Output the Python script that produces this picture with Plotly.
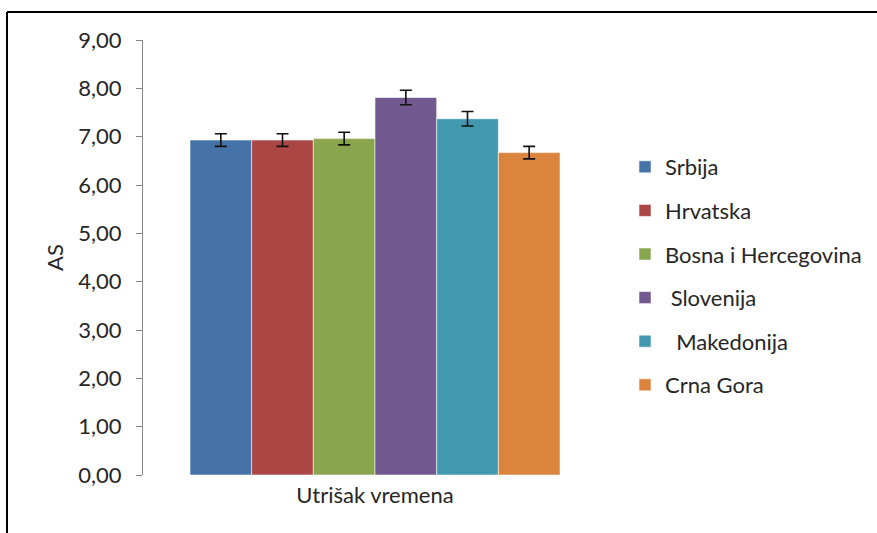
import plotly.graph_objects as go

# Mean scores (AS) with their error margins, one bar per country
countries = ["Srbija", "Hrvatska", "Bosna i Hercegovina", " Slovenija", "  Makedonija", "Crna Gora"]
means = [6.93, 6.93, 6.96, 7.81, 7.37, 6.67]
errors = [0.13, 0.13, 0.13, 0.15, 0.15, 0.13]
category = ["Utrišak vremena"]
colors = ["#4572A7", "#AA4643", "#89A54E", "#71588F", "#4198AF", "#DB843D"]
y_ticks = [0, 1, 2, 3, 4, 5, 6, 7, 8, 9]

W, H = 877, 533
L, R, T, B = 143, 607, 40, 475
FONT = "Lato, 'Open Sans', sans-serif"
FS = 22
TEXT = "#262626"

fig = go.Figure()
for i, (name, m, e, c) in enumerate(zip(countries, means, errors, colors)):
    fig.add_trace(go.Bar(
        x=category, y=[m], name=name, legendgroup=f"g{i}",
        marker=dict(color=c, line=dict(color="rgba(255,255,255,0.55)", width=1)),
        error_y=dict(type="data", array=[e], visible=True, color="#111111",
                     thickness=1.6, width=6),
    ))


def px_x(p):
    return (p - L) / (R - L)


def px_y(p):
    return (B - p) / (B - T)


# outer frame around the chart area
frame = dict(type="line", xref="paper", yref="paper", line=dict(color="#000000", width=2))
shapes = [
    dict(frame, x0=px_x(7), x1=px_x(7), y0=px_y(12), y1=px_y(540)),
    dict(frame, x0=px_x(7), x1=px_x(880), y0=px_y(12), y1=px_y(12)),
]

fig.update_layout(
    width=W, height=H,
    margin=dict(l=L, r=W - R, t=T, b=H - B, pad=0, autoexpand=False),
    barmode="group", bargap=0.2026, bargroupgap=0,
    plot_bgcolor="white", paper_bgcolor="white",
    separators=", ",
    font=dict(family=FONT, size=FS, color=TEXT),
    showlegend=True,
    legend=dict(x=px_x(625), y=px_y(146), xanchor="left", yanchor="top",
                font=dict(family=FONT, size=FS, color=TEXT),
                tracegroupgap=12, traceorder="grouped", bgcolor="rgba(0,0,0,0)"),
    shapes=shapes,
    xaxis=dict(showline=False, showgrid=False, ticks="", tickfont=dict(size=FS),
               ticklabelstandoff=5, automargin=False),
    yaxis=dict(range=[0, 9], tickvals=y_ticks, tickformat=".2f",
               showline=True, linecolor="#868686", linewidth=1,
               ticks="outside", ticklen=6, tickcolor="#868686",
               showgrid=False, zeroline=False, ticklabelstandoff=10,
               tickfont=dict(size=FS), automargin=False,
               title=dict(text="AS", standoff=8, font=dict(size=FS))),
)

fig.write_html("out.html")
